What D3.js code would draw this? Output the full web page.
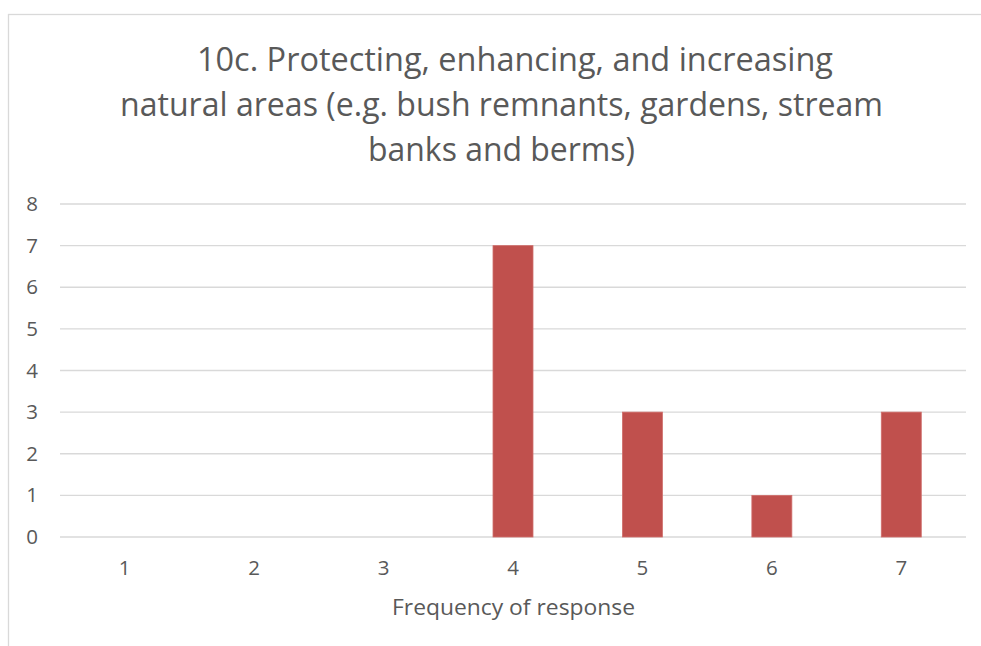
<!DOCTYPE html>
<html>
<head>
<meta charset="utf-8">
<script src="https://cdn.jsdelivr.net/npm/d3@7"></script>
<style>
  html, body { margin: 0; padding: 0; background: #fff; }
  svg { display: block; }
  text { font-family: "Open Sans", "Noto Sans", sans-serif; fill: #595959; }
</style>
</head>
<body>
<svg id="chart" width="981" height="646"></svg>
<script>
const categories = ["1", "2", "3", "4", "5", "6", "7"];
const values = [0, 0, 0, 7, 3, 1, 3];
const yTicks = [0, 1, 2, 3, 4, 5, 6, 7, 8];
const titleLines = [
  "10c. Protecting, enhancing, and increasing",
  "natural areas (e.g. bush remnants, gardens, stream",
  "banks and berms)"
];
const xAxisTitle = "Frequency of response";

const svg = d3.select("#chart");
const plot = { left: 60, right: 966, top: 204, bottom: 537 };

// chart frame
svg.append("rect")
  .attr("x", 8.5).attr("y", 14.5)
  .attr("width", 1100).attr("height", 800)
  .attr("fill", "#fff").attr("stroke", "#d9d9d9").attr("stroke-width", 1.3);

const x = d3.scaleBand().domain(categories).range([plot.left, plot.right]).padding(0);
const y = d3.scaleLinear().domain([0, 8]).range([plot.bottom, plot.top]);

// gridlines
svg.append("g").selectAll("line").data(yTicks).join("line")
  .attr("x1", plot.left).attr("x2", plot.right)
  .attr("y1", d => y(d)).attr("y2", d => y(d))
  .attr("stroke", "#d9d9d9").attr("stroke-width", 1.4);

// y axis labels
const yAxis = d3.axisLeft(y).tickValues(yTicks).tickSize(0).tickPadding(0);
const gy = svg.append("g").attr("transform", `translate(38,0)`).call(yAxis);
gy.select(".domain").remove();
gy.selectAll("text").attr("font-size", 20.5).attr("fill", "#595959")
  .style("font-family", '"Open Sans", "Noto Sans", sans-serif');

// bars
const barW = 40;
svg.append("g").selectAll("rect").data(categories.map((c, i) => ({ c, v: values[i] })).filter(d => d.v > 0))
  .join("rect")
  .attr("x", d => x(d.c) + x.bandwidth() / 2 - barW / 2)
  .attr("width", barW)
  .attr("y", d => y(d.v))
  .attr("height", d => y(0) - y(d.v))
  .attr("fill", "#C0504D")
  .attr("stroke", "#cf6f6c").attr("stroke-width", 0.8);

// x axis labels
const xAxis = d3.axisBottom(x).tickSize(0).tickPadding(0);
const gx = svg.append("g").attr("transform", `translate(0,${plot.bottom + 23})`).call(xAxis);
gx.select(".domain").remove();
gx.selectAll("text").attr("font-size", 20.5).attr("fill", "#595959").attr("dy", "0.71em")
  .attr("y", 0)
  .style("font-family", '"Open Sans", "Noto Sans", sans-serif');

// x axis title
svg.append("text")
  .attr("x", 392).attr("y", 615)
  .attr("font-size", 22.5)
  .attr("textLength", 243).attr("lengthAdjust", "spacingAndGlyphs")
  .text(xAxisTitle);

// title
const titlePos = [
  { x: 197, y: 71, w: 636 },
  { x: 120, y: 116, w: 763 },
  { x: 368, y: 161, w: 267 }
];
svg.append("g").selectAll("text").data(titleLines).join("text")
  .attr("x", (d, i) => titlePos[i].x)
  .attr("y", (d, i) => titlePos[i].y)
  .attr("font-size", 32.5)
  .attr("textLength", (d, i) => titlePos[i].w)
  .attr("lengthAdjust", "spacingAndGlyphs")
  .text(d => d);
</script>
</body>
</html>
